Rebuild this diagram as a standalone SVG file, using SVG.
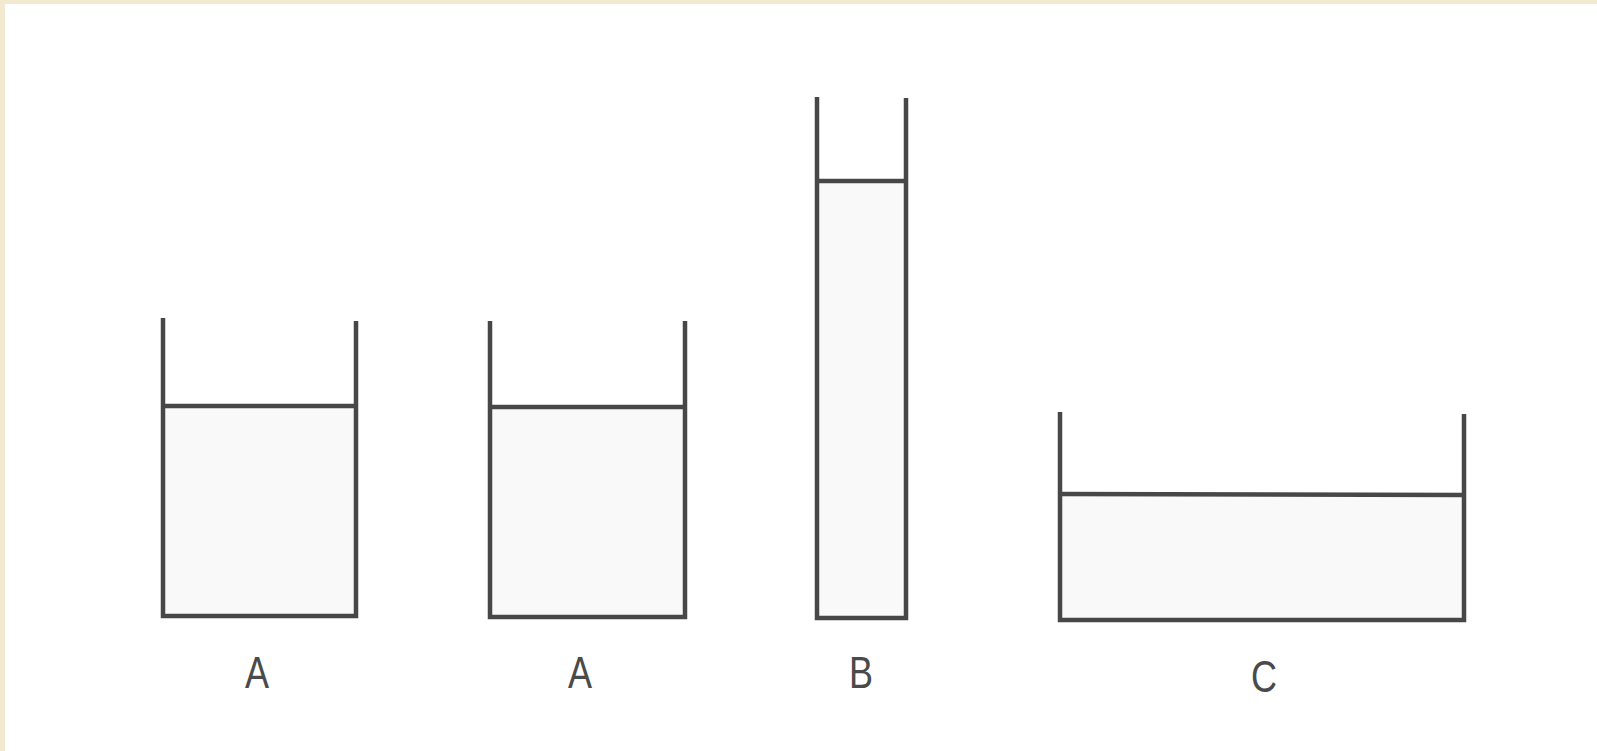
<svg xmlns="http://www.w3.org/2000/svg" width="1597" height="751" viewBox="0 0 1597 751">
<style>
.wall{fill:none;stroke:#474747;stroke-width:4.5;stroke-linejoin:miter}
.water{fill:#f9f9f9;stroke:none}
.lvl{stroke:#474747;stroke-width:4.5}
.lbl{font-family:"Liberation Sans",Arial,sans-serif;font-size:45px;fill:#4a4a4a;text-anchor:middle}
</style>
<rect x="0" y="0" width="1597" height="751" fill="#f2ead0"/>
<rect x="5" y="4" width="1592" height="747" fill="#ffffff"/>
<g id="containerA1">
<rect class="water" x="163" y="406" width="193" height="210"/>
<polyline class="wall" points="163,318 163,616 356,616 356,321"/>
<line class="lvl" x1="163" y1="406" x2="356" y2="406"/>
<text class="lbl" transform="translate(257,688) scale(0.8,1)">A</text>
</g>
<g id="containerA2">
<rect class="water" x="490" y="407" width="195" height="210"/>
<polyline class="wall" points="490,321 490,617 685,617 685,321"/>
<line class="lvl" x1="490" y1="407" x2="685" y2="407"/>
<text class="lbl" transform="translate(580,688) scale(0.8,1)">A</text>
</g>
<g id="containerB">
<rect class="water" x="817" y="181" width="89" height="437"/>
<polyline class="wall" points="817,97 817,618 906,618 906,98"/>
<line class="lvl" x1="817" y1="181" x2="906" y2="181"/>
<text class="lbl" transform="translate(861,688) scale(0.8,1)">B</text>
</g>
<g id="containerC">
<rect class="water" x="1060" y="495" width="404" height="125"/>
<polyline class="wall" points="1060,412 1060,620 1464,620 1464,414"/>
<line class="lvl" x1="1060" y1="494" x2="1464" y2="495"/>
<text class="lbl" transform="translate(1264,692) scale(0.8,1)">C</text>
</g>
</svg>
